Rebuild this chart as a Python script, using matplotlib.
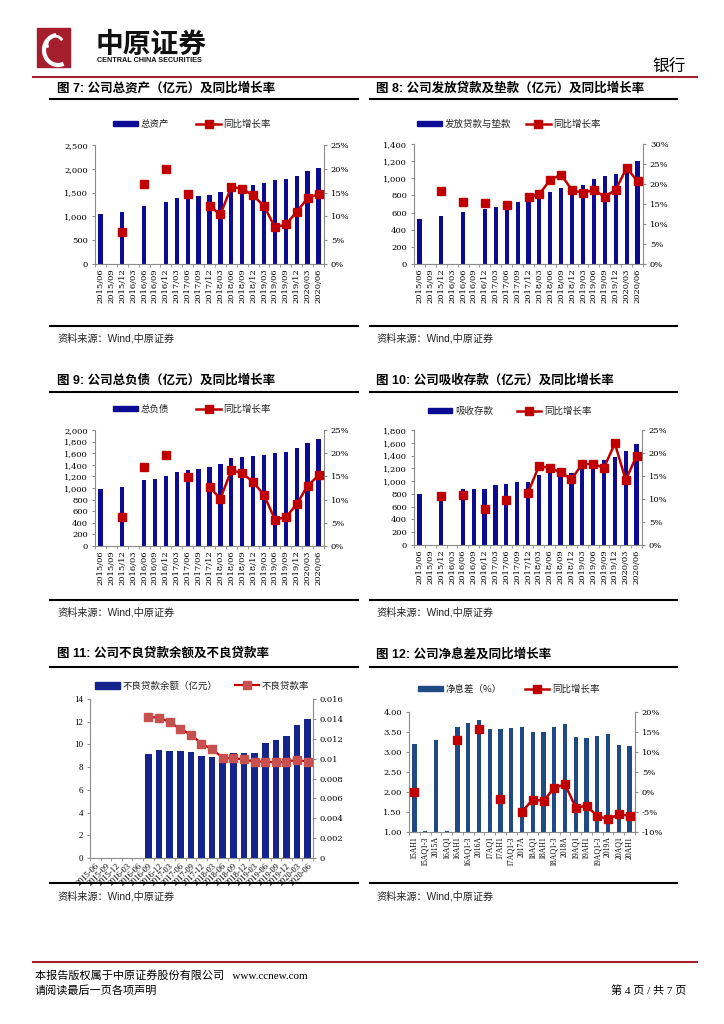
import matplotlib
matplotlib.use('Agg')
import matplotlib.pyplot as plt
import numpy as np
from matplotlib.patches import Rectangle, Arc
from matplotlib.lines import Line2D
from matplotlib.ticker import FuncFormatter, MultipleLocator

plt.rcParams['font.family'] = ['DejaVu Serif', 'Noto Sans CJK SC']
plt.rcParams['axes.unicode_minus'] = False

nan = np.nan
quarters = ['2015/06', '2015/09', '2015/12', '2016/03', '2016/06', '2016/09', '2016/12',
            '2017/03', '2017/06', '2017/09', '2017/12', '2018/03', '2018/06', '2018/09',
            '2018/12', '2019/03', '2019/06', '2019/09', '2019/12', '2020/03', '2020/06']

assets = [1050, nan, 1085, nan, 1220, nan, 1300, 1380, 1430, 1425, 1460, 1520, 1570, 1600,
          1665, 1710, 1760, 1785, 1850, 1945, 2015]
assets_yoy = [nan, nan, 6.8, nan, 16.9, nan, 19.9, nan, 14.8, nan, 12.2, 10.4, 16.2, 15.8,
              14.4, 12.2, 7.7, 8.3, 11.0, 13.8, 14.7]

loans = [525, nan, 556, nan, 603, nan, 645, 665, 690, 723, 770, 800, 840, 883,
         906, 918, 995, 1030, 1054, 1100, 1198]
loans_yoy = [nan, nan, 18.3, nan, 15.6, nan, 15.2, nan, 14.7, nan, 16.7, 17.5, 21.1, 22.3,
             18.4, 17.8, 18.5, 16.8, 18.6, 24.0, 20.7]

liabilities = [980, nan, 1009, nan, 1140, 1163, 1209, 1278, 1312, 1324, 1358, 1410, 1519, 1536,
               1547, 1564, 1610, 1622, 1685, 1771, 1851]
liabilities_yoy = [nan, nan, 6.2, nan, 17.0, nan, 19.6, nan, 14.9, nan, 12.7, 10.2, 16.3, 15.7,
                   13.8, 11.0, 5.7, 6.2, 9.0, 13.0, 15.2]

deposits = [791, nan, 800, nan, 874, 869, 884, 942, 962, 988, 990, 1092, 1124, 1150,
            1130, 1238, 1260, 1332, 1373, 1477, 1581]
deposits_yoy = [nan, nan, 10.7, nan, 10.9, nan, 7.9, nan, 9.8, nan, 11.4, 17.1, 16.8, 15.8,
                14.3, 17.6, 17.6, 16.8, 22.1, 14.1, 19.4]

npl_dates = ['2015-06', '2015-09', '2015-12', '2016-03', '2016-06', '2016-09', '2016-12',
             '2017-03', '2017-06', '2017-09', '2017-12', '2018-03', '2018-06', '2018-09',
             '2018-12', '2019-03', '2019-06', '2019-09', '2019-12', '2020-03', '2020-06']
npl_balance = [nan, nan, nan, nan, nan, 9.13, 9.48, 9.45, 9.42, 9.36, 9.01, 8.89, 8.75, 9.27,
               9.27, 9.27, 10.10, 10.42, 10.74, 11.74, 12.24]
npl_ratio = [nan, nan, nan, nan, nan, 0.01419, 0.01413, 0.01369, 0.01299, 0.01242, 0.01151,
             0.01094, 0.0101, 0.01003, 0.00993, 0.0097, 0.0097, 0.00963, 0.0097, 0.00987, 0.0097]

nim_periods = ['15AH1', '15AQ1-3', '2015A', '16AQ1', '16AH1', '16AQ1-3', '2016A', '17AQ1',
               '17AH1', '17AQ1-3', '2017A', '18AQ1', '18AH1', '18AQ1-3', '2018A', '19AQ1',
               '19AH1', '19AQ1-3', '2019A', '20AQ1', '20AH1']
nim = [3.21, 1.03, 3.29, 1.03, 3.63, 3.73, 3.81, 3.58, 3.57, 3.59, 3.63, 3.51, 3.49, 3.63,
       3.70, 3.38, 3.36, 3.41, 3.45, 3.18, 3.16]
nim_yoy = [0.0, nan, nan, nan, 13.1, nan, 15.8, nan, -1.7, nan, -4.9, -1.9, -2.2, 1.0,
           1.9, -3.9, -3.5, -6.0, -6.8, -5.6, -5.9]

W, H = 724, 1024
fig = plt.figure(figsize=(W / 100, H / 100), dpi=100)


def fx(x):
    return x / W


def fy(y):
    return 1 - y / H


def rect_px(x0, x1, ytop, ybot):
    return [x0 / W, 1 - ybot / H, (x1 - x0) / W, (ybot - ytop) / H]


def hline(x0, x1, y, color='black', lw=1.5):
    fig.add_artist(Line2D([fx(x0), fx(x1)], [fy(y), fy(y)], color=color, lw=lw,
                          transform=fig.transFigure))


CJK = ['Noto Sans CJK SC']
SANS = ['Liberation Sans', 'Noto Sans CJK SC']
RED = '#C00000'
GRAY = '#8C8C8C'

# ---------------- header ----------------
fig.add_artist(Rectangle((fx(37), fy(67)), (70 - 37) / W, (67 - 28) / H,
                         transform=fig.transFigure, color='#A51E2D'))
fig.add_artist(Arc((fx(58), fy(50)), 28 / W, 30 / H, theta1=100, theta2=300,
                   transform=fig.transFigure, color='white', lw=3))
fig.add_artist(Arc((fx(55), fy(44)), 16 / W, 16 / H, theta1=20, theta2=200,
                   transform=fig.transFigure, color='white', lw=2))
fig.text(fx(96), fy(45), '中原证券', fontsize=20, fontweight='bold', family=CJK,
         va='center', ha='left', color='#111111')
fig.text(fx(97), fy(61), 'CENTRAL CHINA SECURITIES', fontsize=5.2, fontweight='bold',
         family=SANS, va='center', ha='left', color='#111111')
fig.text(fx(686), fy(66), '银行', fontsize=12, family=CJK, va='center', ha='right')
hline(33, 697, 77, color='#A51E2D', lw=1.5)

# ---------------- section titles / sources ----------------
titles = [
    (57, 88, '图 7: 公司总资产（亿元）及同比增长率'),
    (376, 88, '图 8: 公司发放贷款及垫款（亿元）及同比增长率'),
    (57, 380, '图 9: 公司总负债（亿元）及同比增长率'),
    (376, 380, '图 10: 公司吸收存款（亿元）及同比增长率'),
    (57, 654, '图 11: 公司不良贷款余额及不良贷款率'),
    (376, 654, '图 12: 公司净息差及同比增长率'),
]
for x, y, t in titles:
    fig.text(fx(x), fy(y), t, fontsize=9, fontweight='bold', family=SANS,
             va='center', ha='left')
for y in (99, 392, 667):
    hline(50, 358, y)
    hline(370, 677, y)
for y_line, y_text in ((326, 338), (600, 612), (883, 896)):
    hline(50, 358, y_line)
    hline(370, 677, y_line)
    fig.text(fx(57), fy(y_text), '资料来源：Wind,中原证券', fontsize=7.3, family=SANS,
             va='center', ha='left', color='#222222')
    fig.text(fx(376), fy(y_text), '资料来源：Wind,中原证券', fontsize=7.3, family=SANS,
             va='center', ha='left', color='#222222')

# ---------------- footer ----------------
hline(33, 697, 962, color='#A51E2D', lw=1.5)
fig.text(fx(35), fy(975), '本报告版权属于中原证券股份有限公司   www.ccnew.com', fontsize=8,
         family=['Liberation Serif', 'Noto Sans CJK SC'], va='center', ha='left')
fig.text(fx(35), fy(991), '请阅读最后一页各项声明', fontsize=8, family=CJK, va='center', ha='left')
fig.text(fx(686), fy(991), '第 4 页 / 共 7 页', fontsize=8,
         family=['Liberation Serif', 'Noto Sans CJK SC'], va='center', ha='right')


# ---------------- charts ----------------
def combo(rect, cats, bars, rates, bar_label, line_label, ylim, ystep, yfmt,
          rlim, rstep, rfmt, bar_color, bar_w, leg_xy, colspace,
          xrot=90, xfont=None, xsize=6, ysize=6, marker_face=RED, ms=5.8, lw=1.8,
          bar_handle_h=0.5, bar_bottom=0, yfamily=None):
    ax = fig.add_axes(rect)
    x = np.arange(len(cats))
    ax.bar(x, np.array(bars, dtype=float) - bar_bottom, bottom=bar_bottom,
           width=bar_w, color=bar_color, zorder=2)
    ax.set_xlim(-0.5, len(cats) - 0.5)
    ax.set_ylim(*ylim)
    ax.yaxis.set_major_locator(MultipleLocator(ystep))
    ax.yaxis.set_major_formatter(FuncFormatter(yfmt))
    ax.set_xticks(x)
    ax.set_xticks(np.arange(len(cats) + 1) - 0.5, minor=True)
    if xrot == 90:
        ax.set_xticklabels(cats, rotation=90, ha='center', va='top',
                           family=xfont or ['DejaVu Serif'], fontsize=xsize)
    else:
        ax.set_xticklabels(cats, rotation=xrot, ha='right', va='top', rotation_mode='anchor',
                           family=xfont or ['DejaVu Serif'], fontsize=xsize)
    ax.tick_params(axis='x', which='major', length=0, pad=3)
    ax.tick_params(axis='x', which='minor', length=2.5, direction='out', color=GRAY)
    ax.tick_params(axis='y', length=2.5, direction='out', color=GRAY, labelsize=ysize, pad=2.5)
    if yfamily:
        for lb in ax.get_yticklabels():
            lb.set_family(yfamily)

    ax2 = ax.twinx()
    ax2.plot(x, rates, color=RED, lw=lw, marker='s', ms=ms,
             markerfacecolor=marker_face, markeredgecolor=marker_face, zorder=3)
    ax2.set_ylim(*rlim)
    ax2.yaxis.set_major_locator(MultipleLocator(rstep))
    ax2.yaxis.set_major_formatter(FuncFormatter(rfmt))
    ax2.tick_params(axis='y', length=2.5, direction='out', color=GRAY, labelsize=6, pad=2.5)

    for a in (ax, ax2):
        a.spines['top'].set_visible(False)
        for s in ('left', 'right', 'bottom'):
            a.spines[s].set_color(GRAY)
            a.spines[s].set_linewidth(0.8)
    ax.spines['right'].set_visible(False)
    ax2.spines['left'].set_visible(False)
    ax2.spines['bottom'].set_visible(False)
    ax.patch.set_visible(False)

    hb = Rectangle((0, 0), 1, 1, color=bar_color)
    hl = Line2D([], [], color=RED, lw=lw, marker='s', ms=ms,
                markerfacecolor=marker_face, markeredgecolor=marker_face)
    ax2.legend([hb, hl], [bar_label, line_label], loc='center', bbox_to_anchor=leg_xy,
               ncol=2, frameon=False, prop={'family': CJK, 'size': 6.8},
               handlelength=2.6, handleheight=bar_handle_h, handletextpad=0.3,
               columnspacing=colspace, borderpad=0, labelcolor='#222222')
    return ax, ax2


thousands = lambda v, p: '{:,.0f}'.format(v)
pct = lambda v, p: '{:.0f}%'.format(v)
NAVY = '#0B0B94'

combo(rect_px(95, 324, 145, 264), quarters, assets, assets_yoy, '总资产', '同比增长率',
      (0, 2500), 500, thousands, (0, 25), 5, pct, NAVY, 0.4, (0.424, 1.176), 2.9)
combo(rect_px(414, 643, 144, 264), quarters, loans, loans_yoy, '发放贷款与垫款', '同比增长率',
      (0, 1400), 200, thousands, (0, 30), 5, pct, NAVY, 0.38, (0.415, 1.167), 1.6)
combo(rect_px(95, 324, 430, 546), quarters, liabilities, liabilities_yoy, '总负债', '同比增长率',
      (0, 2000), 200, thousands, (0, 25), 5, pct, NAVY, 0.4, (0.424, 1.181), 2.9)
combo(rect_px(414, 642, 430, 545), quarters, deposits, deposits_yoy, '吸收存款', '同比增长率',
      (0, 1800), 200, thousands, (0, 25), 5, pct, NAVY, 0.4, (0.42, 1.165), 2.5)

intfmt = lambda v, p: '{:.0f}'.format(v)
gfmt = lambda v, p: '{:g}'.format(round(v, 4))
combo(rect_px(90, 313, 699, 858), npl_dates, npl_balance, npl_ratio, '不良贷款余额（亿元）',
      '不良贷款率', (0, 14), 2, intfmt, (0, 0.016), 0.002, gfmt, '#14248C', 0.62,
      (0.504, 1.082), 1.8, xrot=45, xfont=['Liberation Serif'], xsize=6, ysize=6.5,
      marker_face='#C8504F', ms=5.2, lw=1.6, bar_handle_h=0.8, yfamily=['Liberation Serif'])

fmt2 = lambda v, p: '{:.2f}'.format(v)
combo(rect_px(409, 635, 712, 832), nim_periods, nim, nim_yoy, '净息差（%）', '同比增长率',
      (1, 4), 0.5, fmt2, (-10, 20), 5, pct, '#1F4A84', 0.4, (0.442, 1.19), 2.4,
      xfont=['Liberation Serif'], xsize=5.6, bar_bottom=0)

fig.savefig('out.png', dpi=100)
